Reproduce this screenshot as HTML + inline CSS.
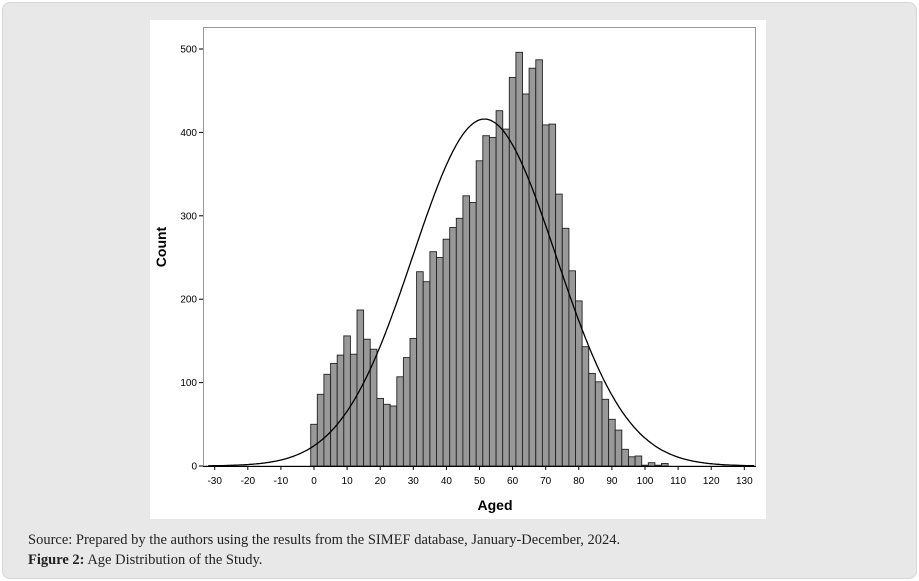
<!DOCTYPE html>
<html><head><meta charset="utf-8"><style>
body{margin:0;background:#fff;width:919px;height:581px;overflow:hidden}
.card{position:absolute;left:2px;top:2px;width:913px;height:575px;background:#e8e8e8;border:1px solid #d6d6d6;border-radius:8px}
.cap{position:absolute;left:28px;font-family:"Liberation Serif",serif;font-size:14.5px;color:#222;white-space:nowrap}
</style></head><body>
<div class="card"></div>
<svg style="position:absolute;left:0;top:0" width="919" height="581" id="s">
<rect x="150" y="20" width="616" height="499" fill="#fff"/>
<rect x="203.5" y="27.5" width="552" height="438.5" fill="none" stroke="#999" stroke-width="1"/>
<g id="bars"></g>
<path id="curve" fill="none" stroke="#000" stroke-width="1.3"/>
<line x1="203" y1="466.5" x2="756" y2="466.5" stroke="#000"/>
<g id="ticks" font-family="Liberation Sans,sans-serif" font-size="10" fill="#000"></g>
<text x="495" y="510" font-family="Liberation Sans,sans-serif" font-size="14" font-weight="bold" text-anchor="middle">Aged</text>
<text transform="translate(166,247) rotate(-90)" font-family="Liberation Sans,sans-serif" font-size="14" font-weight="bold" text-anchor="middle">Count</text>
</svg>
<div class="cap" style="top:532px">Source: Prepared by the authors using the results from the SIMEF database, January-December, 2024.</div>
<div class="cap" style="top:552px"><b>Figure 2:</b> Age Distribution of the Study.</div>
<script>
var X=function(v){return 314+v*3.31},Y=function(c){return 466-c*0.834};
var h=[50,86,110,123,133,156,134,187,152,140,81,74,72,107,130,153,233,221,257,250,272,286,297,324,316,366,396,394,426,404,466,496,446,477,487,409,410,326,285,234,198,143,111,101,80,56,43,20,11,12,1,4,1,3];
var s='';
h.forEach(function(c,i){var a=-1+2*i;s+='<rect x="'+X(a).toFixed(1)+'" y="'+Y(c).toFixed(1)+'" width="6.62" height="'+(c*0.834).toFixed(1)+'" fill="#999" stroke="#222" stroke-width="0.9"/>';});
document.getElementById('bars').innerHTML=s;
var d='';for(var v=-32;v<=133;v+=0.5){var c=416*Math.exp(-Math.pow((v-51.5)/21.6,2)/2);d+=(v==-32?'M':'L')+X(v).toFixed(1)+','+Y(c).toFixed(1);}
document.getElementById('curve').setAttribute('d',d);
var t='';for(var v=-30;v<=130;v+=10){t+='<line x1="'+X(v)+'" y1="466" x2="'+X(v)+'" y2="470" stroke="#000"/><text x="'+X(v)+'" y="484" text-anchor="middle">'+v+'</text>';}
for(var c=0;c<=500;c+=100){t+='<line x1="199" y1="'+Y(c)+'" x2="203" y2="'+Y(c)+'" stroke="#000"/><text x="197" y="'+(Y(c)+3.5)+'" text-anchor="end">'+c+'</text>';}
document.getElementById('ticks').innerHTML=t;
</script>
</body></html>
